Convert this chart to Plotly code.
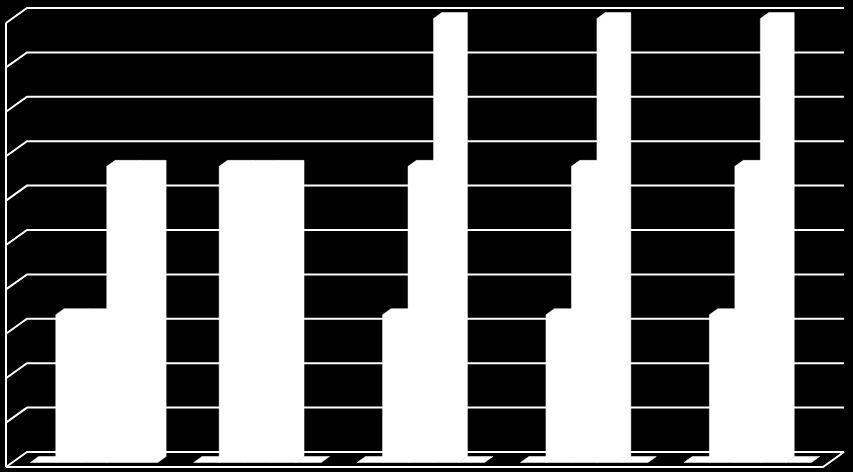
import plotly.graph_objects as go

# Chart values (percent of axis), five categories, five series
categories = ["1", "2", "3", "4", "5"]
series_1 = [0, 0, 0, 0, 0]
series_2 = [33.3, 66.7, 33.3, 33.3, 33.3]
series_3 = [33.3, 66.7, 66.7, 66.7, 66.7]
series_4 = [66.7, 66.7, 100, 100, 100]
series_5 = [66.7, 0, 0, 0, 0]
grid_values = [0, 10, 20, 30, 40, 50, 60, 70, 80, 90, 100]

all_series = [series_1, series_2, series_3, series_4, series_5]

# Oblique 3D look: a step into depth moves right and up
DX = 21 / 163.4      # x shift (category units) for full depth
DY = 15 / 4.44       # y shift (value units) for full depth
D0, D1 = 0.3, 0.7    # depth of bar front and back faces
BAR_W = 0.156
X_LEFT, X_RIGHT = -0.5, len(categories) - 0.5


def P(x, v, d):
    return x + DX * d, v + DY * d


fig = go.Figure()

# walls and floor lines
lx, ly = [], []
for v in grid_values:
    # left wall diagonal + back wall gridline
    for pt in (P(X_LEFT, v, 0), P(X_LEFT, v, 1), P(X_RIGHT, v, 1)):
        lx.append(pt[0]); ly.append(pt[1])
    lx.append(None); ly.append(None)
# left wall front edge
for pt in (P(X_LEFT, grid_values[0], 0), P(X_LEFT, grid_values[-1], 0)):
    lx.append(pt[0]); ly.append(pt[1])
lx.append(None); ly.append(None)
# floor front and right edge
for pt in (P(X_LEFT, 0, 0), P(X_RIGHT, 0, 0), P(X_RIGHT, 0, 1)):
    lx.append(pt[0]); ly.append(pt[1])

fig.add_trace(go.Scatter(x=lx, y=ly, mode='lines', hoverinfo='skip',
                         line=dict(color='white', width=2)))

# bars: front face + top face + right side, all white
n = len(all_series)
for s, vals in enumerate(all_series):
    bx, by = [], []
    for k, v in enumerate(vals):
        x0 = k - n * BAR_W / 2 + s * BAR_W
        x1 = x0 + BAR_W
        pts = [P(x0, 0, D0), P(x0, v, D0), P(x0, v, D1),
               P(x1, v, D1), P(x1, 0, D1), P(x1, 0, D0), P(x0, 0, D0)]
        for pt in pts:
            bx.append(pt[0]); by.append(pt[1])
        bx.append(None); by.append(None)
    fig.add_trace(go.Scatter(x=bx, y=by, mode='lines', fill='toself',
                             fillcolor='white', line=dict(color='white', width=0.5),
                             name='Series %d' % (s + 1), hoverinfo='skip'))

fig.update_layout(
    width=853,
    height=472,
    margin=dict(l=0, r=0, t=0, b=0),
    paper_bgcolor='black',
    plot_bgcolor='black',
    showlegend=False,
    xaxis=dict(visible=False, range=[-0.5 - 6 / 163.4, -0.5 + 847 / 163.4]),
    yaxis=dict(visible=False, range=[-5 / 4.44, 467 / 4.44]),
)

fig.write_html(
    "out.html",
    config={'displayModeBar': False},
    post_script="document.body.style.margin='0';document.body.style.background='black';"
                "document.body.style.overflow='hidden';",
)
